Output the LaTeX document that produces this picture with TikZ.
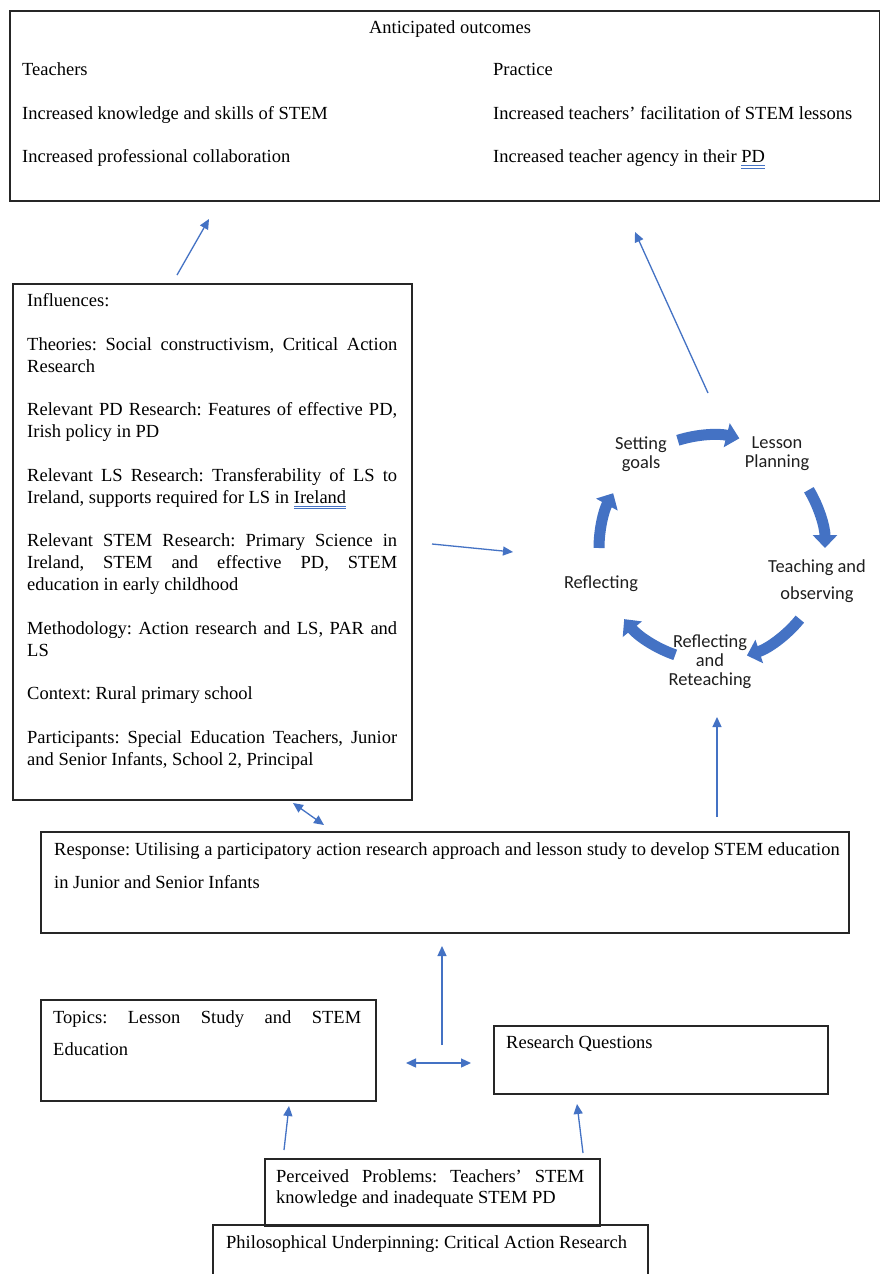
\documentclass[tikz,border=0pt]{standalone}
\usepackage{fontspec}
\setmainfont{Liberation Serif}
\newfontfamily\cyclefont{Carlito}
\usetikzlibrary{arrows.meta}
\definecolor{arrowblue}{HTML}{4472C4}
\definecolor{ulblue}{HTML}{4472C4}
\definecolor{boxline}{HTML}{262626}
\frenchspacing
% double blue underline under a word
\newcommand\gramul[1]{\setbox0=\hbox{#1}%
  \rlap{\textcolor{ulblue}{\rule[-3.2pt]{\wd0}{0.6pt}}}%
  \rlap{\textcolor{ulblue}{\rule[-5.4pt]{\wd0}{0.6pt}}}\box0}
\newcommand\firstline{\rule{0pt}{14pt}}
\begin{document}
\begin{tikzpicture}[x=1pt,y=-1pt,
  box/.style={draw=boxline, line width=1.5pt, inner sep=0pt, anchor=north west},
  body/.style={inner sep=0pt, font=\fontsize{18.5}{22}\selectfont, text=black},
  cols/.style={body, anchor=north west, align=left},
  para/.style={body, anchor=north west, align=justify,
    execute at begin node={\parindent=0pt\parskip=21.5pt\hyphenpenalty=10000\hbadness=10000}},
  steplabel/.style={inner sep=0pt, align=center, text=black!88,
    font=\cyclefont\fontsize{18.4}{19}\selectfont},
  cyclearrow/.style={draw=arrowblue, line width=11pt,
    -{Triangle[width=24pt,length=13pt]}},
  thinarrow/.style={draw=arrowblue, line width=1.3pt,
    -{Triangle[width=9pt,length=10pt]}},
  dblarrow/.style={draw=arrowblue, line width=1.3pt,
    {Triangle[width=9pt,length=10pt]}-{Triangle[width=9pt,length=10pt]}}
]
\clip (0,0) rectangle (880,1274);
\fill[white] (0,0) rectangle (880,1274);

% ---------- outcomes ----------
\node[box, minimum width=870pt, minimum height=190pt] (outcomes) at (9,10) {};
\node[body, anchor=base] (outTitle) at (450,33.5) {Anticipated outcomes};
\node[cols] (outTeachers) at (22,61.5) {\firstline Teachers\\[21.5pt]
  Increased knowledge and skills of STEM\\[21.5pt]
  Increased professional collaboration};
\node[cols] (outPractice) at (493,61.5) {\firstline Practice\\[21.5pt]
  Increased teachers' facilitation of STEM lessons\\[21.5pt]
  Increased teacher agency in their \gramul{PD}};

% ---------- influences ----------
\node[box, minimum width=399pt, minimum height=516pt] (influences) at (12,283) {};
\node[para, text width=370pt] (influencesText) at (27,292.5) {\firstline Influences:\par
  Theories: Social constructivism, Critical Action\linebreak Research\par
  Relevant PD Research: Features of effective PD,\linebreak Irish policy in PD\par
  Relevant LS Research: Transferability of LS to\linebreak Ireland, supports required for LS in \gramul{Ireland}\par
  Relevant STEM Research: Primary Science in\linebreak Ireland, STEM and effective PD, STEM\linebreak education in early childhood\par
  Methodology: Action research and LS, PAR and\linebreak LS\par
  Context: Rural primary school\par
  Participants: Special Education Teachers, Junior\linebreak and Senior Infants, School 2, Principal};

% ---------- response ----------
\node[box, minimum width=808pt, minimum height=101pt] (response) at (40,831) {};
\node[cols] (responseText) at (54,841) {\firstline Response: Utilising a participatory action research approach and lesson study to develop STEM education\\[11pt]
  in Junior and Senior Infants};

% ---------- topics and research questions ----------
\node[box, minimum width=335pt, minimum height=101pt] (topics) at (40,999) {};
\node[para, text width=308pt, font=\fontsize{18.5}{32}\selectfont] (topicsText) at (53,1009.5)
  {\firstline Topics: Lesson Study and STEM\linebreak Education};
\node[box, minimum width=334pt, minimum height=68pt] (questions) at (493,1025) {};
\node[body, anchor=base west] (questionsText) at (506,1048.5) {Research Questions};

% ---------- problems and underpinning ----------
\node[box, minimum width=335pt, minimum height=67pt] (problems) at (264,1158) {};
\node[para, text width=308pt, font=\fontsize{18.5}{21}\selectfont] (problemsText) at (276,1168.5)
  {\firstline Perceived Problems: Teachers' STEM\linebreak knowledge and inadequate STEM PD};
\node[box, minimum width=435pt, minimum height=80pt] (underpinning) at (212,1224) {};
\node[body, anchor=base west] (underpinningText) at (226,1248.5) {Philosophical Underpinning: Critical Action Research};

% ---------- lesson study cycle ----------
\coordinate (cyc) at (712,548);
\node[steplabel] (setGoals) at (641,454) {Setting\\goals};
\node[steplabel] (planning) at (777,454) {Lesson\\Planning};
\node[steplabel] (teaching) at (817,581) {Teaching and\\[8pt]observing};
\node[steplabel] (reteach) at (710,662) {Reflecting\\and\\Reteaching};
\node[steplabel] (reflect) at (601,584) {Reflecting};
\draw[cyclearrow, shift={(cyc)}] (107.6:113pt) arc[start angle=107.6, end angle=76, radius=113pt];
\draw[cyclearrow, shift={(cyc)}] (31:113pt) arc[start angle=31, end angle=0, radius=113pt];
\draw[cyclearrow, shift={(cyc)}] (-39:113pt) arc[start angle=-39, end angle=-72, radius=113pt];
\draw[cyclearrow, shift={(cyc)}] (-109:113pt) arc[start angle=-109, end angle=-141, radius=113pt];
\draw[cyclearrow, shift={(cyc)}] (180:113pt) arc[start angle=180, end angle=151, radius=113pt];

% ---------- connectors ----------
\coordinate (a1s) at (177,275);  \coordinate (a1e) at (209,219);
\coordinate (a2s) at (708,393);  \coordinate (a2e) at (635,232);
\coordinate (a3s) at (432,544);  \coordinate (a3e) at (513,552);
\coordinate (a4s) at (293,803);  \coordinate (a4e) at (324,825);
\coordinate (a5s) at (717,817);  \coordinate (a5e) at (717,717);
\coordinate (a6s) at (442,1045); \coordinate (a6e) at (442,946);
\coordinate (a7s) at (406,1063); \coordinate (a7e) at (471,1063);
\coordinate (a8s) at (284,1150); \coordinate (a8e) at (289,1106);
\coordinate (a9s) at (583,1153); \coordinate (a9e) at (577,1104);
\draw[thinarrow] (a1s) -- (a1e);
\draw[thinarrow] (a2s) -- (a2e);
\draw[thinarrow] (a3s) -- (a3e);
\draw[dblarrow] (a4s) -- (a4e);
\draw[thinarrow] (a5s) -- (a5e);
\draw[thinarrow] (a6s) -- (a6e);
\draw[dblarrow] (a7s) -- (a7e);
\draw[thinarrow] (a8s) -- (a8e);
\draw[thinarrow] (a9s) -- (a9e);
\end{tikzpicture}
\end{document}
